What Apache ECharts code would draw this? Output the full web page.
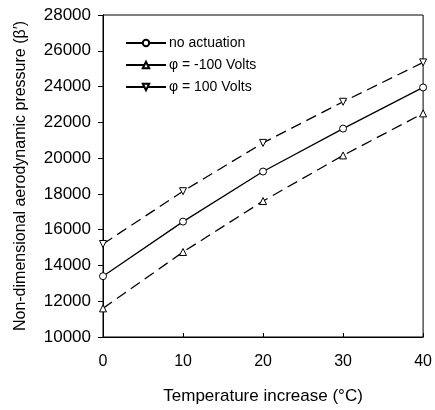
<!DOCTYPE html>
<html>
<head>
<meta charset="utf-8">
<script src="https://cdn.jsdelivr.net/npm/echarts@6/dist/echarts.min.js"></script>
<style>
  html, body { margin: 0; padding: 0; background: #fff; }
  #chart { width: 435px; height: 410px; }
</style>
</head>
<body>
<div id="chart"></div>
<script>
const temps = [0, 10, 20, 30, 40];
const noActuation = [13400, 16450, 19250, 21650, 23950];
const minus100 = [11600, 14750, 17600, 20150, 22500];
const plus100 = [15200, 18150, 20850, 23150, 25350];
const seriesNames = ['no actuation', 'φ = -100 Volts', 'φ = 100 Volts'];

const font = 'Liberation Sans, Arial, sans-serif';
const chart = echarts.init(document.getElementById('chart'));

function pairs(values) {
  return temps.map((t, i) => [t, values[i]]);
}

function makeSeries(name, values, symbol, rotate, dashed) {
  return {
    name: name,
    type: 'line',
    data: pairs(values),
    symbol: symbol,
    symbolRotate: rotate,
    symbolSize: 7,
    showAllSymbol: true,
    itemStyle: { color: '#fff', borderColor: '#000', borderWidth: 1 },
    lineStyle: { color: '#000', width: 1.3, type: dashed ? [11, 6] : 'solid' },
    emphasis: { disabled: true }
  };
}

const option = {
  animation: false,
  grid: {
    left: 103,
    right: 8,
    top: 15,
    height: 325,
    show: true,
    borderColor: '#000',
    borderWidth: 1
  },
  legend: {
    orient: 'vertical',
    left: 120,
    top: 31,
    itemWidth: 40,
    itemHeight: 8,
    itemGap: 8,
    data: seriesNames,
    lineStyle: { type: 'solid' },
    textStyle: { fontFamily: font, fontSize: 14, color: '#000', padding: [0, 0, 0, -2] }
  },
  xAxis: {
    type: 'value',
    min: 0,
    max: 40,
    interval: 10,
    name: 'Temperature increase (°C)',
    nameLocation: 'middle',
    nameGap: 51,
    nameTextStyle: { fontFamily: font, fontSize: 17, color: '#000' },
    axisLine: { lineStyle: { color: '#000' } },
    axisTick: { inside: true, length: 4, lineStyle: { color: '#000' } },
    axisLabel: { fontFamily: font, fontSize: 16, color: '#000', margin: 17 },
    splitLine: { show: false }
  },
  yAxis: {
    type: 'value',
    min: 10000,
    max: 28000,
    interval: 2000,
    name: 'Non-dimensional aerodynamic pressure (β\u2032)',
    nameLocation: 'middle',
    nameGap: 74,
    nameTextStyle: { fontFamily: font, fontSize: 16, color: '#000' },
    axisLine: { lineStyle: { color: '#000' } },
    axisTick: { inside: false, length: 5, lineStyle: { color: '#000' } },
    axisLabel: {
      fontFamily: font,
      fontSize: 17,
      color: '#000',
      margin: 12,
      formatter: (v) => String(v)
    },
    splitLine: { show: false }
  },
  series: [
    makeSeries(seriesNames[0], noActuation, 'circle', 0, false),
    makeSeries(seriesNames[1], minus100, 'triangle', 0, true),
    makeSeries(seriesNames[2], plus100, 'triangle', 180, true)
  ]
};

chart.setOption(option);
</script>
</body>
</html>
